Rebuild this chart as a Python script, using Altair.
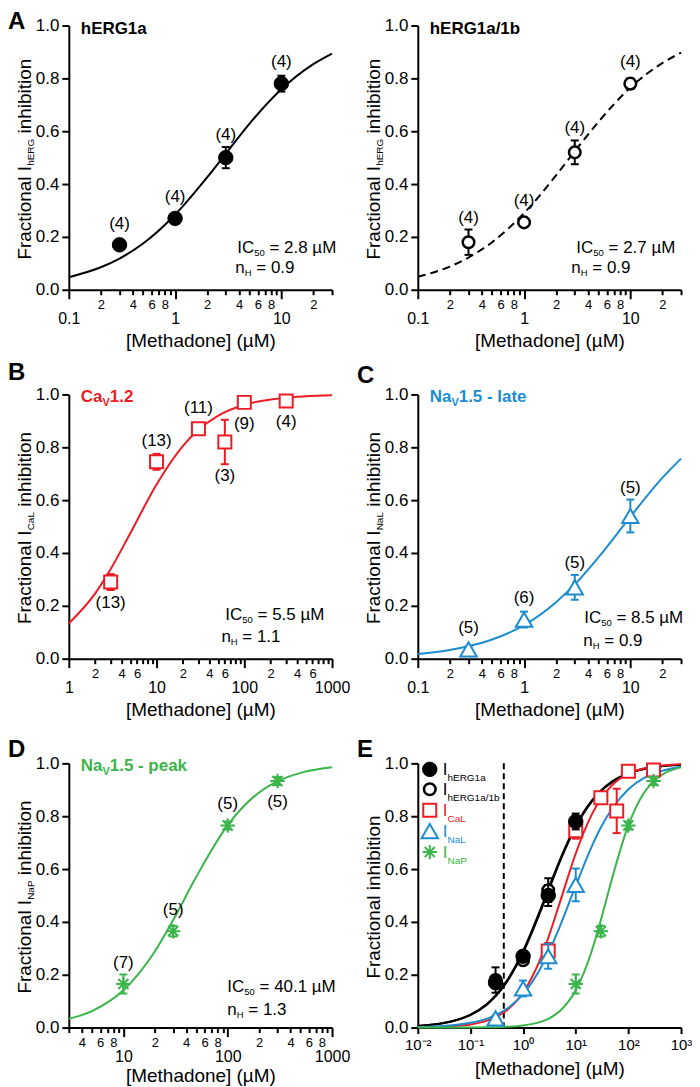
import json
import altair as alt
import pandas as pd

FONT = "Liberation Sans"
BLACK = "#000000"
RED = "#EC1C24"
BLUE = "#1C8CD0"
GREEN = "#3AB54A"

W = 264
H = 265

# ---------------- data ----------------
herg1a_conc = [0.3, 1, 3, 10]
herg1a_mean = [0.17, 0.27, 0.50, 0.78]
herg1a_sem = [0.02, 0.02, 0.04, 0.03]
herg1a_n = ["(4)", "(4)", "(4)", "(4)"]
herg1a_side = ["above", "above", "above", "above"]

herg1b_conc = [0.3, 1, 3, 10]
herg1b_mean = [0.18, 0.255, 0.52, 0.78]
herg1b_sem = [0.048, 0.015, 0.045, 0.02]
herg1b_n = ["(4)", "(4)", "(4)", "(4)"]
herg1b_side = ["above", "above", "above", "above"]

cal_conc = [3, 10, 30, 60, 100, 300]
cal_mean = [0.29, 0.745, 0.87, 0.82, 0.97, 0.975]
cal_sem = [0.03, 0.03, 0.01, 0.084, 0.01, 0.01]
cal_n = ["(13)", "(13)", "(11)", "(3)", "(9)", "(4)"]
cal_side = ["below", "above", "above", "below", "below", "below"]

nal_conc = [0.3, 1, 3, 10]
nal_mean = [0.035, 0.148, 0.27, 0.54]
nal_sem = [0.01, 0.03, 0.047, 0.062]
nal_n = ["(5)", "(6)", "(5)", "(5)"]
nal_side = ["above", "above", "above", "above"]

nap_conc = [10, 30, 100, 300]
nap_mean = [0.165, 0.365, 0.765, 0.933]
nap_sem = [0.036, 0.02, 0.015, 0.015]
nap_n = ["(7)", "(5)", "(5)", "(5)"]
nap_side = ["above", "above", "above", "below"]

# fitted curves
fit_conc = [0.01, 0.02, 0.03, 0.05, 0.1, 0.2, 0.3, 0.5, 1, 2, 3, 5, 10, 20, 30, 50, 100, 200, 300, 500, 1000]
herg1a_fit = [0.0062, 0.0116, 0.0166, 0.0260, 0.0475, 0.0851, 0.118, 0.175, 0.284, 0.425, 0.515, 0.628, 0.759, 0.854, 0.894, 0.930, 0.962, 0.979, 0.985, 0.991, 0.995]
herg1b_fit = [0.0064, 0.0120, 0.0171, 0.0269, 0.0490, 0.0877, 0.122, 0.180, 0.290, 0.433, 0.524, 0.635, 0.765, 0.858, 0.897, 0.933, 0.963, 0.980, 0.986, 0.991, 0.995]
cal_fit = [0.0010, 0.0021, 0.0032, 0.0057, 0.0120, 0.0254, 0.0392, 0.0668, 0.133, 0.247, 0.339, 0.474, 0.659, 0.805, 0.866, 0.919, 0.961, 0.981, 0.988, 0.993, 0.997]
nal_fit = [0.0023, 0.0043, 0.0062, 0.0097, 0.0180, 0.0331, 0.0470, 0.0724, 0.127, 0.214, 0.281, 0.383, 0.537, 0.684, 0.757, 0.831, 0.902, 0.945, 0.961, 0.975, 0.987]
nap_fit = [0.0000, 0.0001, 0.0001, 0.0002, 0.0004, 0.0010, 0.0017, 0.0033, 0.0082, 0.0199, 0.0332, 0.0626, 0.141, 0.288, 0.407, 0.571, 0.766, 0.890, 0.932, 0.964, 0.985]

fit_ic50 = ["2.8", "2.7", "5.5", "8.5", "40.1"]
fit_nh = ["0.9", "0.9", "1.1", "0.9", "1.3"]

e_ref_conc = [0.43]

# axis ticks and tick labels
ac_ticks = [0.1, 0.2, 0.3, 0.4, 0.5, 0.6, 0.7, 0.8, 0.9, 1, 2, 3, 4, 5, 6, 7, 8, 9, 10, 20, 30]
ac_tick_labels = ["0.1", "2", "", "4", "", "6", "", "8", "", "1", "2", "", "4", "", "6", "", "8", "", "10", "2", ""]
ac_majors = [0.1, 1, 10]
b_ticks = [1, 2, 3, 4, 5, 6, 7, 8, 9, 10, 20, 30, 40, 50, 60, 70, 80, 90, 100, 200, 300, 400, 500, 600, 700, 800, 900, 1000]
b_tick_labels = ["1", "2", "", "4", "", "6", "", "", "", "10", "2", "", "4", "", "6", "", "", "", "100", "2", "", "4", "", "6", "", "", "", "1000"]
b_majors = [1, 10, 100, 1000]
d_ticks = [3, 4, 5, 6, 7, 8, 9, 10, 20, 30, 40, 50, 60, 70, 80, 90, 100, 200, 300, 400, 500, 600, 700, 800, 900, 1000]
d_tick_labels = ["", "4", "", "6", "", "8", "", "10", "2", "", "4", "", "6", "", "8", "", "100", "2", "", "4", "", "6", "", "8", "", "1000"]
d_majors = [10, 100, 1000]
e_ticks = [0.01, 0.1, 1, 10, 100, 1000]
e_tick_labels = ["10⁻²", "10⁻¹", "10⁰", "10¹", "10²", "10³"]
y_ticks = [0, 0.2, 0.4, 0.6, 0.8, 1.0]
y_tick_labels = ["0.0", "0.2", "0.4", "0.6", "0.8", "1.0"]

# ---------------- styles ----------------
STAR = "M-1,0L1,0M0,-1L0,1M-0.7,-0.7L0.7,0.7M-0.7,0.7L0.7,-0.7"
STYLES = {
    "herg1a": dict(color=BLACK, mark=dict(shape="circle", filled=True, fill=BLACK, stroke=BLACK, strokeWidth=1, size=210, opacity=1)),
    "herg1b": dict(color=BLACK, mark=dict(shape="circle", filled=True, fill="white", stroke=BLACK, strokeWidth=2.5, size=135, opacity=1)),
    "cal": dict(color=RED, mark=dict(shape="square", filled=True, fill="white", stroke=RED, strokeWidth=2, size=170, opacity=1)),
    "nal": dict(color=BLUE, mark=dict(shape="triangle-up", filled=True, fill="white", stroke=BLUE, strokeWidth=2, size=270, opacity=1)),
    "nap": dict(color=GREEN, mark=dict(shape=STAR, filled=False, stroke=GREEN, strokeWidth=2, size=210, opacity=1)),
}

REG = {' ': 278, '(': 333, ')': 333, '.': 278, '=': 584, '-': 333, '/': 278, '[': 278, ']': 278,
       'A': 667, 'B': 667, 'C': 722, 'D': 722, 'E': 667, 'F': 611, 'G': 778, 'H': 722, 'I': 278,
       'L': 556, 'M': 833, 'N': 722, 'P': 667, 'R': 722, 'V': 667,
       'a': 556, 'b': 556, 'c': 500, 'd': 556, 'e': 556, 'f': 278, 'h': 556, 'i': 222, 'k': 500,
       'l': 222, 'n': 556, 'o': 556, 'p': 556, 'r': 333, 't': 278, 'µ': 576}
BOLD = {' ': 278, '.': 278, '-': 333, '/': 278, 'A': 722, 'B': 722, 'C': 722, 'D': 722, 'E': 667,
        'G': 778, 'N': 722, 'R': 722, 'V': 667, 'a': 556, 'b': 611, 'e': 556, 'h': 611, 'k': 556,
        'l': 278, 'p': 611, 't': 333}


def tw(s, size, bold=False):
    t = BOLD if bold else REG
    return sum(t.get(c, 556) for c in s) * size / 1000.0


def rich(segs, x, y, size, color, bold=False, angle=0, sub_size=9.5, sub_dy=3, anchor="left"):
    widths = [tw(t, sub_size if s else size, bold) for t, s in segs]
    total = sum(widths)
    off = {"left": 0, "center": -total / 2, "right": -total}[anchor]
    out = []
    for (t, s), w in zip(segs, widths):
        fs = sub_size if s else size
        stripped = t.lstrip(" ")
        lead = tw(t[: len(t) - len(stripped)], fs, bold)
        out.append(
            alt.Chart(pd.DataFrame({"t": [stripped]}))
            .mark_text(align="left", baseline="alphabetic", font=FONT, fontSize=fs,
                       fontWeight="bold" if bold else "normal", color=color, angle=angle,
                       dx=off + lead, dy=sub_dy if s else 0)
            .encode(text="t:N", x=alt.value(x), y=alt.value(y))
        )
        off += w
    return out


def x_axis(ticks, labels, majors=None, title_pad=2, major_pad=12):
    expr = " : ".join(f"datum.value == {v!r} ? '{l}'" for v, l in zip(ticks, labels) if l) + " : ''"
    kw = dict(values=ticks, labelExpr=expr, title="[Methadone] (µM)", titleFontSize=19,
              titleFontWeight="normal", titlePadding=title_pad, labelOverlap=False, labelFlush=False,
              grid=False, domainWidth=2, tickWidth=2, domainColor=BLACK, tickColor=BLACK,
              labelColor=BLACK, titleColor=BLACK)
    if majors:
        test = f"indexof({json.dumps(majors)}, datum.value) >= 0"
        kw.update(tickSize={"condition": {"test": test, "value": 9}, "value": 5},
                  labelFontSize={"condition": {"test": test, "value": 16}, "value": 13},
                  labelPadding={"condition": {"test": test, "value": major_pad}, "value": 4})
    else:
        kw.update(tickSize=6, labelFontSize=15, labelPadding=4)
    return alt.Axis(**kw)


yexpr = " : ".join(f"datum.value == {v!r} ? '{l}'" for v, l in zip(y_ticks, y_tick_labels)) + " : ''"
Y_AXIS = alt.Axis(values=y_ticks, labelExpr=yexpr, title=None, tickSize=7, labelFontSize=17,
                  labelPadding=3, grid=False, domainWidth=2, tickWidth=2, domainColor=BLACK,
                  tickColor=BLACK, labelColor=BLACK)
Y_SCALE = alt.Scale(domain=[0, 1], nice=False)


def series_df(conc, mean, sem, n=None, side=None):
    d = pd.DataFrame({"conc": conc, "mean": mean, "sem": sem})
    d["lo"] = d["mean"] - d["sem"]
    d["hi"] = d["mean"] + d["sem"]
    pad = d["sem"].clip(lower=0.035)
    d["lab_hi"] = d["mean"] + pad
    d["lab_lo"] = d["mean"] - pad
    if n is not None:
        d["n"] = n
        d["side"] = side
    return d


SERIES = {
    "herg1a": series_df(herg1a_conc, herg1a_mean, herg1a_sem, herg1a_n, herg1a_side),
    "herg1b": series_df(herg1b_conc, herg1b_mean, herg1b_sem, herg1b_n, herg1b_side),
    "cal": series_df(cal_conc, cal_mean, cal_sem, cal_n, cal_side),
    "nal": series_df(nal_conc, nal_mean, nal_sem, nal_n, nal_side),
    "nap": series_df(nap_conc, nap_mean, nap_sem, nap_n, nap_side),
}
FITS = {"herg1a": herg1a_fit, "herg1b": herg1b_fit, "cal": cal_fit, "nal": nal_fit, "nap": nap_fit}


def make_panel(domain, axis, curves, series, labels, title=None, title_color=BLACK, ytitle=None,
               ic=None, letter=None, legend=False, ref=False):
    xs = alt.Scale(type="log", domain=domain, nice=False)

    def X(f):
        return alt.X(f, type="quantitative", scale=xs, axis=axis)

    def Yf(f):
        return alt.Y(f, type="quantitative", scale=Y_SCALE, axis=Y_AXIS)

    layers = []
    if ref:
        layers.append(alt.Chart(pd.DataFrame({"conc": e_ref_conc})).mark_rule(
            color=BLACK, strokeWidth=2, strokeDash=[6, 4]).encode(x=X("conc")))
    for key, color, dash in curves:
        d = pd.DataFrame({"conc": fit_conc, "frac": FITS[key]})
        d = d[(d.conc >= domain[0]) & (d.conc <= domain[1])]
        m = dict(color=color, strokeWidth=2, interpolate="monotone")
        if dash:
            m["strokeDash"] = dash
        layers.append(alt.Chart(d).mark_line(**m).encode(x=X("conc"), y=Yf("frac")))
    for key in series:
        st = STYLES[key]
        d = SERIES[key]
        base = alt.Chart(d)
        layers.append(base.mark_rule(color=st["color"], strokeWidth=2).encode(
            x=X("conc"), y=Yf("lo"), y2=alt.Y2("hi")))
        for f in ("hi", "lo"):
            layers.append(base.mark_tick(orient="horizontal", color=st["color"], size=8,
                                         thickness=2, opacity=1).encode(x=X("conc"), y=Yf(f)))
        layers.append(base.mark_point(**st["mark"]).encode(x=X("conc"), y=Yf("mean")))
        if labels:
            ab = d[d.side == "above"]
            be = d[d.side == "below"]
            if len(ab):
                layers.append(alt.Chart(ab).mark_text(font=FONT, fontSize=17, align="center",
                              baseline="middle", dy=-12, color=BLACK).encode(
                    x=X("conc"), y=Yf("lab_hi"), text="n:N"))
            if len(be):
                layers.append(alt.Chart(be).mark_text(font=FONT, fontSize=17, align="center",
                              baseline="middle", dy=12, color=BLACK).encode(
                    x=X("conc"), y=Yf("lab_lo"), text="n:N"))
    if title:
        layers += rich(title, 12, 8, 17, title_color, bold=True, sub_size=11, sub_dy=4)
    if ytitle:
        layers += rich(ytitle, -38, 134, 19, BLACK, angle=270, sub_size=10, sub_dy=3, anchor="center")
    if ic:
        (x1, y1), (x2, y2), v_ic, v_nh = ic
        layers += rich([("IC", 0), ("50", 1), (f" = {v_ic} µM", 0)], x1, y1, 17, BLACK, sub_size=9.5, sub_dy=3)
        layers += rich([("n", 0), ("H", 1), (f" = {v_nh}", 0)], x2, y2, 17, BLACK, sub_size=9.5, sub_dy=3)
    if letter:
        ch, ly = letter
        layers += rich([(ch, 0)], -61, ly, 24, BLACK, bold=True)
    if legend:
        entries = [("herg1a", "hERG1a", BLACK), ("herg1b", "hERG1a/1b", BLACK), ("cal", "CaL", RED),
                   ("nal", "NaL", BLUE), ("nap", "NaP", GREEN)]
        rows = [6, 26, 47, 68, 89]
        for (key, sub, col), ry in zip(entries, rows):
            layers.append(alt.Chart(pd.DataFrame({"k": [key]})).mark_point(**STYLES[key]["mark"]).encode(
                x=alt.value(12), y=alt.value(ry)))
            layers += rich([("I", 0), (sub, 1)], 25, ry + 6, 17, col, sub_size=10, sub_dy=6)
    return alt.layer(*layers).properties(width=W, height=H)


def yt(sub):
    return [("Fractional I", 0), (sub, 1), (" inhibition", 0)]


pA1 = make_panel([0.1, 30], x_axis(ac_ticks, ac_tick_labels, ac_majors, 5), [("herg1a", BLACK, None)],
                 ["herg1a"], True, title=[("hERG1a", 0)], ytitle=yt("hERG"),
                 ic=((169, 228), (167, 248), fit_ic50[0], fit_nh[0]), letter=("A", 3))
pA2 = make_panel([0.1, 30], x_axis(ac_ticks, ac_tick_labels, ac_majors, 5), [("herg1b", BLACK, [8, 5])],
                 ["herg1b"], True, title=[("hERG1a/1b", 0)], ytitle=yt("hERG"),
                 ic=((159, 228), (154, 248), fit_ic50[1], fit_nh[1]))
pB = make_panel([1, 1000], x_axis(b_ticks, b_tick_labels, b_majors, 5), [("cal", RED, None)],
                ["cal"], True, title=[("Ca", 0), ("V", 1), ("1.2", 0)], title_color=RED, ytitle=yt("CaL"),
                ic=((157, 226), (153, 248), fit_ic50[2], fit_nh[2]), letter=("B", -14))
pC = make_panel([0.1, 30], x_axis(ac_ticks, ac_tick_labels, ac_majors, 5), [("nal", BLUE, None)],
                ["nal"], True, title=[("Na", 0), ("V", 1), ("1.5 - late", 0)], title_color=BLUE, ytitle=yt("NaL"),
                ic=((167, 229), (166, 252), fit_ic50[3], fit_nh[3]), letter=("C", -11))
pD = make_panel([3, 1000], x_axis(d_ticks, d_tick_labels, d_majors, 2), [("nap", GREEN, None)],
                ["nap"], True, title=[("Na", 0), ("V", 1), ("1.5 - peak", 0)], title_color=GREEN, ytitle=yt("NaP"),
                ic=((159, 229), (159, 252), fit_ic50[4], fit_nh[4]), letter=("D", -6))
pE = make_panel([0.01, 1000], x_axis(e_ticks, e_tick_labels, None, 7),
                [("herg1b", BLACK, None), ("herg1a", BLACK, None), ("cal", RED, None), ("nal", BLUE, None), ("nap", GREEN, None)],
                ["cal", "nal", "nap", "herg1b", "herg1a"], False,
                ytitle=[("Fractional inhibition", 0)], letter=("E", -6), legend=True, ref=True)

chart = (
    alt.concat(pA1, pA2, pB, pC, pD, pE, columns=2, spacing={"row": 105, "column": 86}, bounds="flush")
    .properties(padding={"left": 0, "top": 0, "right": 0, "bottom": 0}, background="white")
    .configure_axis(labelFont=FONT, titleFont=FONT)
    .configure_view(stroke=None)
)

chart.save("out.html", embed_options={"renderer": "svg", "actions": False})
